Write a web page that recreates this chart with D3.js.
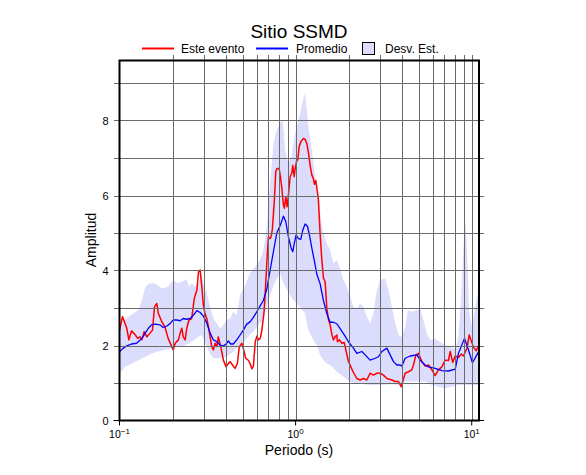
<!DOCTYPE html>
<html>
<head>
<meta charset="utf-8">
<script src="https://cdn.jsdelivr.net/npm/d3@7"></script>
<style>
  html, body { margin: 0; padding: 0; background: #fff; }
  svg { display: block; font-family: "Liberation Sans", Arial, Helvetica, sans-serif; }
</style>
</head>
<body>
<svg id="chart" width="586" height="475"></svg>
<script>
// ---------------- DATA ----------------
const title = "Sitio SSMD";
const xLabel = "Periodo (s)";
const yLabel = "Amplitud";
const legendLabels = ["Este evento", "Promedio", "Desv. Est."];
const xDomain = [0.1, 11];
const yDomain = [0, 9.6];
const yTickLabels = [0, 2, 4, 6, 8];
const yGridValues = [1, 2, 3, 4, 5, 6, 7, 8, 9];
const xMajorTicks = [0.1, 1, 10];
const xMajorExp = ["\u22121", "0", "1"];
const xGridValues = [0.2,0.3,0.4,0.5,0.6,0.7,0.8,0.9,1,2,3,4,5,6,7,8,9,10];

// Este evento (period s, amplitude)
const esteEvento = [
[0.100,2.41],[0.104,2.77],[0.110,2.46],[0.113,2.15],[0.117,2.39],[0.123,2.28],[0.127,2.19],[0.131,2.23],[0.134,2.15],[0.138,2.37],[0.143,2.23],[0.149,2.33],[0.154,2.41],[0.158,3.03],[0.163,3.12],[0.166,2.86],[0.174,2.63],[0.181,2.50],[0.189,2.19],[0.198,1.97],[0.202,1.88],[0.207,2.06],[0.216,2.15],[0.221,2.33],[0.226,2.46],[0.230,2.23],[0.236,2.15],[0.241,2.46],[0.248,2.68],[0.257,2.72],[0.266,3.26],[0.275,3.48],[0.281,3.97],[0.287,4.01],[0.293,3.6],[0.299,3.1],[0.306,2.85],[0.313,2.72],[0.320,2.5],[0.327,2.23],[0.334,1.97],[0.341,1.88],[0.349,2.06],[0.357,1.97],[0.364,2.23],[0.376,1.97],[0.389,1.61],[0.403,1.43],[0.415,1.52],[0.425,1.57],[0.438,1.48],[0.453,1.39],[0.467,1.52],[0.479,1.97],[0.495,2.06],[0.505,1.92],[0.521,1.66],[0.540,1.6],[0.551,1.52],[0.564,1.38],[0.576,1.45],[0.590,2.1],[0.603,2.25],[0.615,2.15],[0.630,2.19],[0.643,2.4],[0.662,2.9],[0.672,3.4],[0.686,4.2],[0.701,4.9],[0.716,4.85],[0.726,4.9],[0.738,5.1],[0.748,5.5],[0.758,5.9],[0.772,6.65],[0.785,6.72],[0.806,6.72],[0.820,6.5],[0.835,6.2],[0.853,5.75],[0.864,5.66],[0.880,5.97],[0.895,5.7],[0.910,6.0],[0.931,6.5],[0.952,6.6],[0.964,6.8],[0.981,6.5],[0.994,6.7],[1.016,6.95],[1.029,6.95],[1.047,7.3],[1.075,7.45],[1.107,7.52],[1.132,7.5],[1.158,7.39],[1.182,7.15],[1.209,6.8],[1.236,6.55],[1.262,6.45],[1.279,6.3],[1.302,6.4],[1.325,6.15],[1.347,5.9],[1.377,5.0],[1.408,4.3],[1.439,3.8],[1.471,3.7],[1.504,3.0],[1.536,2.7],[1.570,2.55],[1.606,2.3],[1.640,2.15],[1.676,2.23],[1.714,2.28],[1.728,2.1],[1.774,2.15],[1.830,2.06],[1.887,2.08],[1.936,1.85],[1.995,1.58],[2.059,1.43],[2.130,1.28],[2.227,1.12],[2.326,1.08],[2.427,1.12],[2.538,1.08],[2.650,1.26],[2.767,1.21],[2.893,1.26],[3.020,1.26],[3.154,1.21],[3.298,1.12],[3.521,1.08],[3.675,1.04],[3.838,1.04],[3.976,0.9],[4.19,1.26],[4.375,1.3],[4.57,1.35],[4.67,1.48],[4.82,1.75],[4.985,1.79],[5.21,1.57],[5.443,1.45],[5.683,1.48],[5.94,1.35],[6.20,1.2],[6.476,1.35],[6.77,1.43],[7.07,1.61],[7.38,1.6],[7.55,1.84],[7.80,1.55],[8.06,1.72],[8.41,1.68],[8.71,1.77],[8.98,1.72],[9.39,1.92],[9.68,2.28],[9.90,2.15],[10.24,1.95],[10.61,1.86],[10.99,2.01]
];

// Promedio
const promedio = [
[0.100,1.83],[0.105,1.93],[0.110,1.99],[0.117,2.04],[0.125,2.06],[0.134,2.19],[0.140,2.33],[0.146,2.46],[0.152,2.55],[0.159,2.57],[0.170,2.55],[0.177,2.48],[0.186,2.52],[0.194,2.59],[0.202,2.68],[0.211,2.68],[0.221,2.66],[0.230,2.72],[0.241,2.70],[0.252,2.72],[0.263,2.81],[0.275,2.93],[0.287,2.88],[0.299,2.79],[0.313,2.6],[0.327,2.33],[0.341,2.15],[0.357,2.1],[0.372,2.01],[0.389,1.99],[0.403,2.04],[0.415,2.12],[0.428,2.04],[0.443,2.04],[0.463,2.15],[0.484,2.28],[0.505,2.41],[0.528,2.57],[0.551,2.63],[0.576,2.75],[0.602,2.9],[0.628,3.05],[0.656,3.2],[0.686,3.5],[0.716,4.0],[0.748,4.5],[0.782,5.0],[0.817,5.2],[0.853,5.45],[0.880,5.3],[0.910,4.9],[0.943,4.6],[0.964,4.5],[0.984,4.73],[1.007,4.95],[1.037,4.85],[1.070,4.83],[1.099,5.08],[1.132,5.24],[1.167,5.18],[1.198,4.95],[1.236,4.6],[1.279,4.25],[1.320,3.9],[1.377,3.65],[1.439,3.2],[1.504,2.85],[1.570,2.62],[1.640,2.62],[1.714,2.58],[1.790,2.45],[1.910,2.25],[1.995,2.1],[2.130,1.93],[2.227,1.79],[2.378,1.84],[2.483,1.75],[2.650,1.61],[2.83,1.66],[2.954,1.7],[3.09,1.84],[3.298,1.93],[3.443,1.75],[3.595,1.57],[3.758,1.48],[3.925,1.48],[4.012,1.45],[4.19,1.66],[4.473,1.72],[4.883,1.75],[5.097,1.61],[5.443,1.48],[5.683,1.43],[6.20,1.39],[6.77,1.33],[7.38,1.32],[8.06,1.37],[8.41,1.79],[9.10,2.19],[9.59,1.88],[10.10,1.54],[10.70,1.75],[11.0,1.86]
];

// Desv. Est. band: upper and lower edges
const desvSuperior = [
[0.100,2.55],[0.1075,2.7],[0.117,2.82],[0.128,2.95],[0.134,3.2],[0.140,3.55],[0.146,3.65],[0.159,3.66],[0.174,3.52],[0.189,3.57],[0.202,3.75],[0.216,3.66],[0.226,3.7],[0.241,3.77],[0.248,3.57],[0.257,3.66],[0.269,3.57],[0.281,3.66],[0.293,3.93],[0.299,3.65],[0.313,3.39],[0.327,3.03],[0.341,2.72],[0.357,2.59],[0.372,2.46],[0.389,2.55],[0.406,2.68],[0.425,2.72],[0.443,2.9],[0.463,2.81],[0.484,3.35],[0.516,3.6],[0.551,3.93],[0.589,4.1],[0.628,4.28],[0.656,4.55],[0.686,5.17],[0.716,6.32],[0.748,7.39],[0.782,7.75],[0.817,7.95],[0.846,8.0],[0.872,7.21],[0.910,6.85],[0.952,7.08],[0.994,7.66],[1.061,8.19],[1.107,8.6],[1.132,8.72],[1.182,7.83],[1.236,7.21],[1.291,6.5],[1.347,5.88],[1.408,5.2],[1.439,5.0],[1.504,4.72],[1.570,4.55],[1.640,4.19],[1.714,4.28],[1.790,4.06],[1.869,3.75],[1.954,3.57],[2.040,3.3],[2.130,3.03],[2.227,2.99],[2.326,3.12],[2.427,3.03],[2.538,2.77],[2.650,2.59],[2.767,2.86],[2.893,3.48],[3.020,3.75],[3.225,3.79],[3.367,3.48],[3.521,3.03],[3.675,2.6],[3.838,2.28],[4.012,2.23],[4.19,2.5],[4.34,2.95],[4.57,2.9],[4.883,2.95],[5.097,2.99],[5.32,2.68],[5.56,2.33],[5.81,2.15],[6.20,2.19],[6.77,2.06],[7.38,1.97],[8.06,1.93],[8.41,2.23],[8.71,3.3],[8.98,4.63],[9.18,5.35],[9.39,4.63],[9.68,2.86],[10.02,2.5],[10.47,3.03],[10.93,3.48],[11.0,3.55]
];
const desvInferior = [
[0.100,1.26],[0.1075,1.43],[0.117,1.52],[0.128,1.61],[0.140,1.7],[0.152,1.79],[0.166,1.84],[0.181,1.88],[0.198,1.93],[0.216,1.97],[0.236,2.01],[0.257,2.1],[0.281,2.23],[0.293,2.28],[0.299,2.2],[0.313,1.97],[0.327,1.79],[0.341,1.66],[0.372,1.66],[0.406,1.7],[0.443,1.84],[0.484,2.03],[0.528,2.19],[0.551,2.3],[0.576,2.37],[0.628,2.6],[0.656,2.68],[0.686,3.03],[0.716,3.35],[0.765,3.7],[0.817,3.93],[0.853,3.66],[0.910,3.43],[0.972,3.21],[1.037,3.07],[1.132,2.86],[1.182,2.4],[1.262,2.15],[1.320,2.0],[1.377,1.75],[1.471,1.55],[1.570,1.48],[1.714,1.3],[1.869,1.17],[2.040,1.04],[2.227,0.99],[2.427,0.97],[2.650,0.95],[3.020,0.95],[3.521,0.97],[3.925,0.95],[4.19,1.04],[4.775,1.04],[5.443,1.04],[5.94,0.95],[6.476,0.9],[7.07,0.86],[7.72,0.9],[8.41,0.95],[9.59,0.95],[11.0,0.95]
];

// ---------------- CHART ----------------
const svg = d3.select("#chart");
const pLeft = 119.5, pRight = 479, pTop = 60.5, pBottom = 420.5;
const x = d3.scaleLog().domain(xDomain).range([pLeft, pRight]);
const y = d3.scaleLinear().domain(yDomain).range([pBottom, pTop]);

const colors = { red: "#ff0000", blue: "#0000ff", band: "#dcdcfc", grid: "#6a6a6a" };

svg.append("defs").append("clipPath").attr("id", "clip")
  .append("rect").attr("x", pLeft).attr("y", pTop).attr("width", pRight - pLeft).attr("height", pBottom - pTop);

const plot = svg.append("g").attr("clip-path", "url(#clip)");

// band polygon
const bandPts = desvSuperior.concat(desvInferior.slice().reverse());
const lineGen = d3.line().x(d => x(d[0])).y(d => y(d[1]));
plot.append("path")
  .attr("d", lineGen(bandPts) + "Z")
  .attr("fill", colors.band).attr("stroke", "none");

// grid
const grid = svg.append("g").attr("stroke", colors.grid).attr("stroke-width", 1).attr("shape-rendering", "crispEdges");
grid.selectAll("line.v").data(xGridValues).join("line")
  .attr("x1", d => Math.round(x(d)) + 0.5).attr("x2", d => Math.round(x(d)) + 0.5)
  .attr("y1", pTop - 6).attr("y2", pBottom);
grid.selectAll("line.h").data(yGridValues).join("line")
  .attr("y1", d => Math.round(y(d)) + 0.5).attr("y2", d => Math.round(y(d)) + 0.5)
  .attr("x1", pLeft - 6).attr("x2", pRight + 5);

// series
plot.append("path").datum(esteEvento).attr("d", lineGen)
  .attr("fill", "none").attr("stroke", colors.red).attr("stroke-width", 1.5).attr("stroke-linejoin", "round");
plot.append("path").datum(promedio).attr("d", lineGen)
  .attr("fill", "none").attr("stroke", colors.blue).attr("stroke-width", 1.3).attr("stroke-linejoin", "round");

// frame
svg.append("rect").attr("x", pLeft).attr("y", pTop).attr("width", pRight - pLeft).attr("height", pBottom - pTop)
  .attr("fill", "none").attr("stroke", "#000").attr("stroke-width", 2);

// y axis ticks + labels
svg.append("line").attr("x1", pLeft - 6).attr("x2", pLeft).attr("y1", y(0)).attr("y2", y(0)).attr("stroke", "#000").attr("stroke-width", 1);
svg.append("line").attr("x1", pRight).attr("x2", pRight + 5).attr("y1", y(0)).attr("y2", y(0)).attr("stroke", "#000").attr("stroke-width", 1);
svg.append("g").selectAll("text").data(yTickLabels).join("text")
  .attr("x", pLeft - 11).attr("y", d => y(d) + 4)
  .attr("text-anchor", "end").attr("font-size", 11).attr("fill", "#000")
  .text(d => d);

// x axis major ticks
svg.append("g").selectAll("line").data(xMajorTicks).join("line")
  .attr("x1", d => x(d)).attr("x2", d => x(d)).attr("y1", pBottom).attr("y2", pBottom + 5)
  .attr("stroke", "#000").attr("stroke-width", 1);
const xl = svg.append("g").selectAll("text").data(xMajorTicks).join("text")
  .attr("x", d => x(d)).attr("y", 438)
  .attr("text-anchor", "middle").attr("font-size", 10.5).attr("fill", "#000");
xl.append("tspan").text("10");
xl.append("tspan").attr("dy", -4).attr("font-size", 8).text((d, i) => xMajorExp[i]);

// axis titles
svg.append("text").attr("x", 299).attr("y", 455).attr("text-anchor", "middle")
  .attr("font-size", 14).text(xLabel);
svg.append("text").attr("transform", "translate(96,240) rotate(-90)").attr("text-anchor", "middle")
  .attr("font-size", 14).text(yLabel);

// title
svg.append("text").attr("x", 299).attr("y", 38).attr("text-anchor", "middle")
  .attr("font-size", 19).text(title);

// legend
const lg = svg.append("g");
lg.append("line").attr("x1", 142).attr("x2", 174).attr("y1", 48.5).attr("y2", 48.5).attr("stroke", colors.red).attr("stroke-width", 2);
lg.append("text").attr("x", 181).attr("y", 53).attr("font-size", 12).text(legendLabels[0]);
lg.append("line").attr("x1", 256).attr("x2", 288).attr("y1", 48.5).attr("y2", 48.5).attr("stroke", colors.blue).attr("stroke-width", 2);
lg.append("text").attr("x", 296).attr("y", 53).attr("font-size", 12).text(legendLabels[1]);
lg.append("rect").attr("x", 362.5).attr("y", 42.5).attr("width", 12).attr("height", 12)
  .attr("fill", colors.band).attr("stroke", "#000").attr("stroke-width", 1);
lg.append("text").attr("x", 385).attr("y", 53).attr("font-size", 12).text(legendLabels[2]);
</script>
</body>
</html>
